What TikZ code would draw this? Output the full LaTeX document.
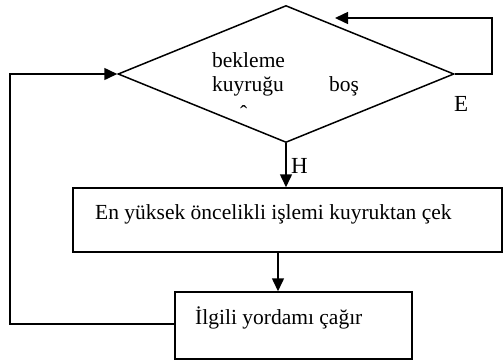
\documentclass[tikz,border=0pt]{standalone}
\usepackage{fontspec}
\setmainfont{Liberation Serif}
\usetikzlibrary{shapes.geometric,arrows.meta}
\begin{document}
\begin{tikzpicture}[x=1pt,y=-1pt,
  line/.style={line width=1.5pt},
  arr/.style={line width=1.5pt,-{Triangle[length=13pt,width=12pt]}},
  box/.style={draw,line width=1.5pt,inner sep=0pt},
  txt/.style={inner sep=0pt,anchor=base west,font=\fontsize{21.5}{24}\selectfont}]
\useasboundingbox (0,0) rectangle (503,360);
\node[draw,diamond,line width=1.5pt,inner sep=0pt,minimum width=336pt,minimum height=137pt,shape aspect=2.45] (d) at (286,74) {};
\node[box,minimum width=429pt,minimum height=64pt] (b1) at (287.5,220) {};
\node[box,minimum width=237pt,minimum height=67pt] (b2) at (293.5,325.5) {};
\node[txt] (t1) at (212,67) {bekleme};
\node[txt] (t2) at (212,91) {kuyruğu};
\node[txt] (t3) at (329,91) {boş};
\node[txt] (t4) at (240,120) {ˆ};
\node[txt] (t5) at (95,219) {En yüksek öncelikli işlemi kuyruktan çek};
\node[txt] (t6) at (195,324) {İlgili yordamı çağır};
\node[txt,font=\fontsize{23}{26}\selectfont] (e) at (454,111) {E};
\node[txt,font=\fontsize{23}{26}\selectfont] (h) at (291,173) {H};
\coordinate (r1) at (492,74);
\coordinate (r2) at (492,18);
\coordinate (r3) at (335,18);
\coordinate (l1) at (10,324);
\coordinate (l2) at (10,74);
\draw[arr] (d.south) -- (d.south |- b1.north);
\draw[arr] ([xshift=-9.5pt]b1.south) -- ([xshift=-9.5pt]b1.south |- b2.north);
\draw[arr] (d.east) -- (r1) -- (r2) -- (r3);
\draw[arr] (b2.west |- l1) -- (l1) -- (l2) -- (d.west);
\end{tikzpicture}
\end{document}
